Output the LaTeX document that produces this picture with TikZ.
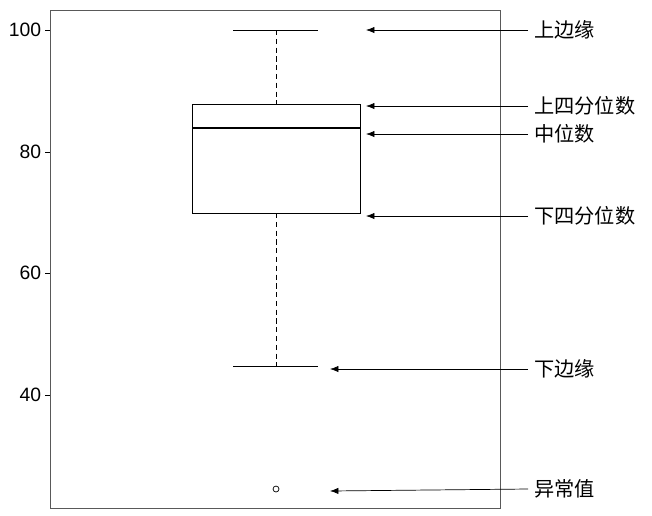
\documentclass[tikz,border=0pt]{standalone}
\usepackage{fontspec}
\setmainfont{Liberation Sans}
\newfontfamily\cjk{Noto Sans CJK SC}
\usetikzlibrary{arrows.meta, positioning}
\begin{document}
\begin{tikzpicture}[x=0.02cm, y=-0.02cm, >=Latex,
    font=\fontsize{11}{13}\selectfont,
    lbl/.style={anchor=west, font=\fontsize{11.5}{13}\cjk},
    tick/.style={anchor=east, inner sep=2pt}]
  \useasboundingbox (0,0) rectangle (652,515);
  % frame
  \draw[gray!70!black] (50,10) rectangle (500,508);
  % y axis
  \foreach \v/\y in {100/30, 80/152, 60/273, 40/395} {
    \draw (45,\y) -- (50,\y);
    \node[tick] (t\v) at (45,\y) {\v};
  }
  % box
  \draw (192,104) rectangle (360,213);
  \draw[line width=1.6pt] (192,128) -- (360,128);
  % whiskers
  \draw[densely dashed] (276,30) -- (276,104);
  \draw[densely dashed] (276,213) -- (276,366);
  \draw (233,30) -- (318,30);
  \draw (233,366) -- (318,366);
  \node[circle, draw, inner sep=1.2pt] (out) at (276,489) {};
  % labels
  \node[lbl] (ub) at (528,30) {上边缘};
  \node[lbl] (q3) at (528,106) {上四分位数};
  \node[lbl] (md) at (528,134) {中位数};
  \node[lbl] (q1) at (528,216) {下四分位数};
  \node[lbl] (lb) at (528,369) {下边缘};
  \node[lbl] (ol) at (528,489) {异常值};
  % arrows
  \coordinate (aub) at (366,30);
  \coordinate (aq3) at (366,106);
  \coordinate (amd) at (366,134);
  \coordinate (aq1) at (366,216);
  \coordinate (alb) at (330,369);
  \coordinate (aol) at (330,491);
  \draw[->] (ub.west) -- (aub);
  \draw[->] (q3.west) -- (aq3);
  \draw[->] (md.west) -- (amd);
  \draw[->] (q1.west) -- (aq1);
  \draw[->] (lb.west) -- (alb);
  \draw[->] (ol.west) -- (aol);
\end{tikzpicture}
\end{document}
